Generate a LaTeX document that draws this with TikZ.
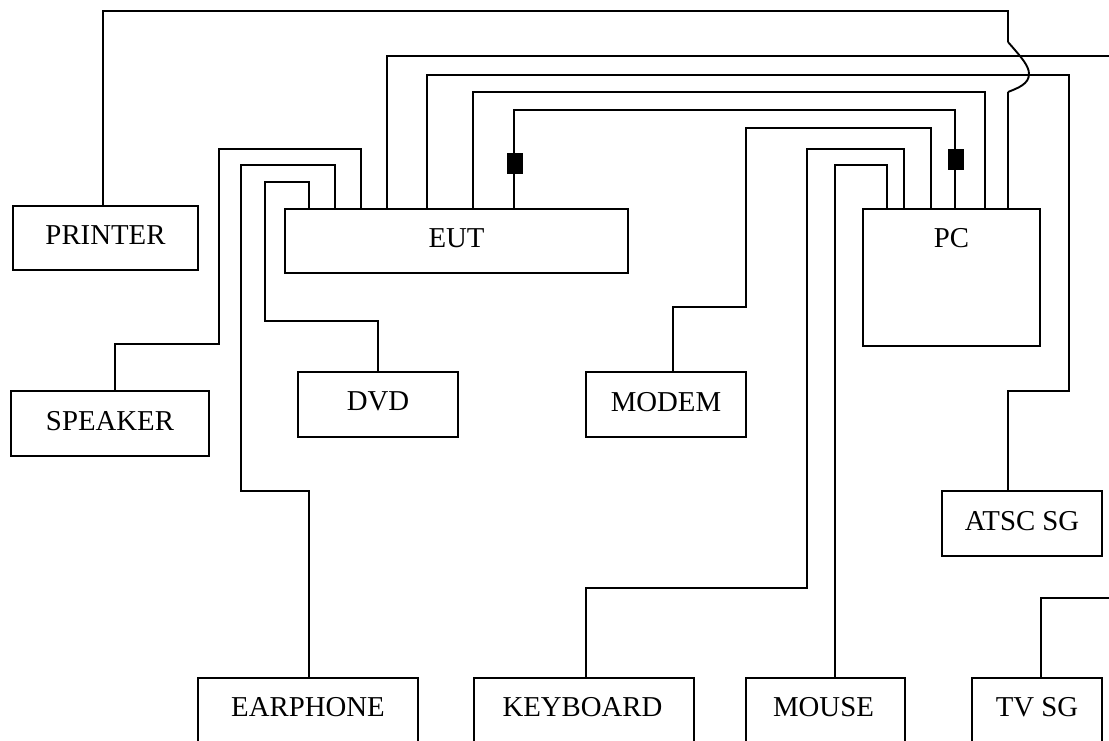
\documentclass[tikz,border=0pt]{standalone}
\usepackage{fontspec}
\setmainfont{Liberation Serif}
\begin{document}
\begin{tikzpicture}[
  x=1pt, y=-1pt,
  every node/.style = {font=\fontsize{28.8}{31}\selectfont, text depth=6pt},
  unit/.style = {draw, line width=1.4pt, inner sep=0pt},
  wire/.style = {line width=1.4pt},
  bump/.style = {line width=1.9pt},
  choke/.style = {fill=black, draw=none, minimum width=16pt, minimum height=21pt, inner sep=0pt, text depth=0pt}
]
  \useasboundingbox (0,0) rectangle (1109,740);
  \clip (0,0) rectangle (1109,740);

  % boxes
  \node[unit, minimum width=185pt, minimum height=64pt] (printer) at (105.5,238) {PRINTER};
  \node[unit, minimum width=343pt, minimum height=64pt] (eut) at (456.5,241) {EUT};
  \node[unit, minimum width=177pt, minimum height=137pt] (pc) at (951.5,277.5) {};
  \node (pclbl) at (951.5,241) {PC};
  \node[unit, minimum width=198pt, minimum height=65pt] (speaker) at (110,423.5) {SPEAKER};
  \node[unit, minimum width=160pt, minimum height=65pt] (dvd) at (378,404.5) {DVD};
  \node[unit, minimum width=160pt, minimum height=65pt] (modem) at (666,404.5) {MODEM};
  \node[unit, minimum width=160pt, minimum height=65pt] (atsc) at (1022,523.5) {ATSC SG};
  \node[unit, minimum width=220pt, minimum height=78pt] (earphone) at (308,717) {};
  \node (earphonelbl) at (308,710) {EARPHONE};
  \node[unit, minimum width=220pt, minimum height=78pt] (keyboard) at (584,717) {};
  \node (keyboardlbl) at (582.5,710) {KEYBOARD};
  \node[unit, minimum width=159pt, minimum height=78pt] (mouse) at (825.5,717) {};
  \node (mouselbl) at (823.5,710) {MOUSE};
  \node[unit, minimum width=130pt, minimum height=78pt] (tvsg) at (1037,717) {};
  \node (tvsglbl) at (1037,710) {TV SG};

  % eut side
  \coordinate (bumpa) at (1008,42);
  \coordinate (bumpb) at (1008,92);
  \draw[wire] (103,0 |- printer.north) -- (103,11) -- (1008,11) -- (bumpa);
  \draw[bump] (bumpa) .. controls (1022,58) and (1029,66) .. (1029,74)
    .. controls (1029,84) and (1018,88) .. (bumpb);
  \draw[wire] (bumpb) -- (1008,0 |- pc.north);
  \draw[wire] (387,0 |- eut.north) -- (387,56) -- (1109,56);
  \draw[wire] (427,0 |- eut.north) -- (427,75) -- (1069,75) -- (1069,391) -- (1008,391) -- (1008,0 |- atsc.north);
  \draw[wire] (473,0 |- eut.north) -- (473,92) -- (985,92) -- (985,0 |- pc.north);
  \draw[wire] (514,0 |- eut.north) -- (514,110) -- (955,110) -- (955,0 |- pc.north);
  \node[choke] (chokea) at (515,163.5) {};
  \node[choke] (chokeb) at (955.5,159.5) {};

  % pc side
  \draw[wire] (673,0 |- modem.north) -- (673,307) -- (746,307) -- (746,128) -- (931,128) -- (931,0 |- pc.north);
  \draw[wire] (586,0 |- keyboard.north) -- (586,588) -- (807,588) -- (807,149) -- (904,149) -- (904,0 |- pc.north);
  \draw[wire] (835,0 |- mouse.north) -- (835,165) -- (887,165) -- (887,0 |- pc.north);

  % left side
  \draw[wire] (115,0 |- speaker.north) -- (115,344) -- (219,344) -- (219,149) -- (361,149) -- (361,0 |- eut.north);
  \draw[wire] (309,0 |- earphone.north) -- (309,491) -- (241,491) -- (241,165) -- (335,165) -- (335,0 |- eut.north);
  \draw[wire] (dvd.north) -- (378,321) -- (265,321) -- (265,182) -- (309,182) -- (309,0 |- eut.north);

  \draw[wire] (1041,0 |- tvsg.north) -- (1041,598) -- (1109,598);
\end{tikzpicture}
\end{document}
